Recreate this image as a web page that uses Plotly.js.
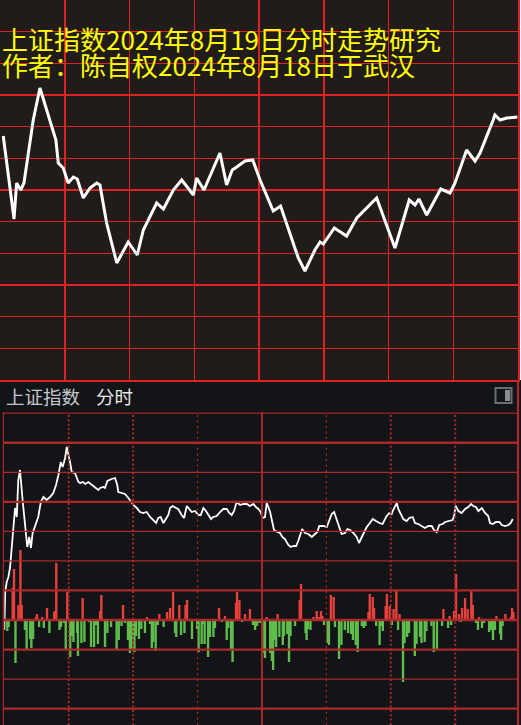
<!DOCTYPE html>
<html>
<head>
<meta charset="utf-8">
<script src="https://cdn.plot.ly/plotly-3.0.1.min.js"></script>
<style>
html,body{margin:0;padding:0;background:#131417;}
#chart{width:521px;height:725px;}
</style>
</head>
<body>
<div id="chart"></div>
<script>
// ---------- text ----------
const titleLine1 = "上证指数2024年8月19日分时走势研究";
const titleLine2 = "作者：陈自权2024年8月18日于武汉";
const panelName = "上证指数";
const panelMode = "分时";

// ---------- top panel: study curve (minute of session, relative level) ----------
const topMin = [1.5,6.5,7.7,9.6,11.1,15.4,18.5,23.6,25.9,27.0,29.3,31.6,34.0,35.8,38.6,41.7,44.8,46.3,49.4,54.1,59.4,63.6,66.4,72.6,75.7,80.3,84.2,89.6,91.1,94.5,101.9,105.0,107.6,109.7,113.5,117.1,120.5,126.6,130.0,138.2,141.3,145.9,148.3,149.8,154.9,160.6,165.3,174.5,183.0,189.6,192.3,194.1,197.7,204.2,208.5,210.8,216.2,220.1,222.4,228.5,229.3,231.7,234.8,239.7];
const topVal = [244,161,197,190,197,260,292,256,240,217,212,197,203,201,182,192,197,195,157,117,138,125,150,177,171,190,200,185,202,190,227,195,210,213,219,220,200,169,174,122,109,130,138,136,152,144,162,182,132,180,175,181,165,191,187,197,230,219,227,260,265,260,262,263];

// ---------- bottom panel: intraday price (minute, relative level) ----------
const priceMin = [0,0.4,1.1,1.9,2.7,3.4,4.2,5.0,5.8,6.5,
  7.3,8.1,8.6,9.3,10.1,10.7,11.6,12.4,13.2,14.8,
  15.8,17.0,18.2,19.7,21.3,22.8,24.1,25.2,26.3,27.2,
  28.3,29.1,29.8,30.6,31.4,32.9,34.5,35.3,36.5,37.7,
  39.1,40.7,42.2,43.8,44.6,46.1,46.9,48.0,50.0,51.6,
  52.6,53.1,54.7,56.2,57.8,58.9,60.1,61.7,63.2,64.7,
  66.3,67.9,69.4,70.7,71.7,72.8,74.1,75.3,76.4,77.2,
  78.4,80.0,81.0,82.6,83.7,85.0,86.2,87.3,88.8,90.4,
  91.5,92.7,93.9,95.0,96.3,97.3,98.9,100.5,102.0,103.6,
  104.8,105.9,107.0,108.2,109.8,111.3,112.9,114.4,116.0,117.2,
  118.3,119.4,120.3,121.4,122.2,123.0,123.8,124.8,125.6,127.2,
  128.4,129.5,130.7,132.3,133.4,134.6,135.9,136.9,138.1,138.7,
  140.1,141.6,143.2,144.7,145.8,146.7,148.6,150.2,151.4,152.5,
  153.6,154.8,156.0,157.1,158.7,159.8,161.0,162.6,164.1,165.2,
  166.5,167.5,168.8,170.3,171.6,173.1,174.7,176.2,177.8,179.3,
  180.4,180.9,182.0,182.8,183.5,184.6,185.8,187.4,188.6,190.2,
  191.3,192.8,194.4,195.9,197.5,199.1,200.1,201.4,202.6,204.2,
  205.3,207.3,208.8,209.6,210.2,211.5,213.0,214.6,216.1,217.4,
  218.4,219.7,220.8,222.4,223.9,225.4,226.2,227.5,229.0,230.6,
  231.7,233.2,234.8,235.9,236.8];
const priceVal = [-10,28,38,43,53,70,95,112,103,140,
  150,127,118,103,85,73,83,72,87,97,
  103,118,123,120,123,127,135,145,158,153,
  162,173,167,158,148,147,138,137,138,136,
  138,135,133,130,132,133,132,139,141,142,
  135,128,127,126,122,118,115,112,108,107,
  108,103,100,97,102,103,97,101,105,112,
  114,112,111,105,102,114,111,108,109,105,
  105,112,109,105,101,103,104,108,111,111,
  107,105,109,118,115,116,116,114,116,113,
  111,108,102,103,117,113,108,98,90,88,
  87,83,81,75,73,74,74,79,87,91,
  87,86,83,86,88,94,94,93,100,106,
  108,100,93,86,87,91,90,87,83,77,
  83,87,93,97,101,99,97,96,103,107,
  106,109,113,117,111,106,101,99,102,103,
  97,96,94,92,94,94,90,88,95,96,
  98,99,100,105,114,109,107,111,113,116,
  114,113,109,112,107,104,97,96,98,98,
  95,94,95,97,101];

// ---------- bottom panel: volume bars (red = up, green = down) ----------
const upMin = [3.9,4.5,6.6,7.5,8.1,14.8,15.2,17.6,19.9,23.2,
  23.6,24.2,29.3,36.5,44.6,45.2,55.3,66.5,72.2,75.8,
  77.2,78.6,81.5,84.4,85.1,100.0,102.8,105.1,107.9,108.4,
  109.5,112.1,114.4,122.2,127.3,137.6,138.2,144.0,145.5,146.4,
  147.5,148.2,152.1,153.4,169.6,170.2,171.6,172.2,177.6,178.2,
  179.5,181.3,182.6,184.1,204.5,207.4,209.5,210.4,211.8,213.2,
  214.6,215.8,217.5,218.2,221.1,229.2,233.4,235.9,236.5,237.1];
const upVol = [32,51,15,70,15,3,6,3,12,8,
  9,57,28,22,9,25,15,3,6,8,
  12,28,15,15,20,12,4,1,17,28,
  20,6,11,3,6,20,36,3,9,3,
  9,4,25,23,8,26,23,12,14,26,
  14,11,29,6,11,4,9,46,6,12,
  22,11,30,15,3,4,6,3,12,8];
const downMin = [1.4,2.0,5.2,9.6,10.4,12.0,12.6,13.4,16.2,18.4,
  21.0,25.7,26.4,27.7,28.6,30.7,31.5,32.2,33.9,34.3,
  35.9,37.3,39.5,40.4,41.8,42.6,43.6,46.9,48.0,49.7,
  52.3,53.3,54.6,56.2,57.6,58.5,59.2,60.1,60.6,61.3,
  62.7,63.8,65.5,67.9,68.7,69.4,70.5,71.5,74.2,79.5,
  80.1,82.3,83.9,87.4,89.8,90.5,91.9,92.7,93.3,94.9,
  95.8,97.4,98.1,101.3,103.6,104.3,105.6,106.3,110.7,115.8,
  116.8,117.7,118.8,119.6,120.3,121.4,123.8,124.6,125.2,125.6,
  126.6,128.1,129.7,130.3,131.8,132.6,133.3,135.4,140.3,140.8,
  141.5,142.6,148.9,150.6,151.2,154.0,155.9,157.0,158.6,160.1,
  161.5,162.4,163.7,164.6,166.5,167.4,168.2,173.2,174.8,175.5,
  176.3,180.5,183.4,185.7,186.4,187.6,188.5,191.2,192.0,193.6,
  194.3,195.8,196.6,198.9,200.0,201.5,203.9,206.7,208.1,212.5,
  219.7,220.6,222.5,223.4,225.8,226.6,227.6,228.5,230.9,231.4,
  232.1];
const downVol = [-11,-7,-43,-10,-30,-19,-28,-19,-7,-8,
  -13,-10,-7,-3,-30,-37,-16,-22,-13,-36,
  -23,-22,-2,-27,-27,-5,-24,-27,-13,-7,
  -29,-20,-6,-3,-20,-33,-30,-18,-32,-16,
  -19,-9,-13,-4,-28,-22,-31,-5,-7,-13,
  -17,-15,-13,-19,-9,-32,-24,-4,-24,-37,
  -17,-17,-8,-2,-20,-8,-29,-42,-2,-5,
  -10,-6,-3,-3,-33,-38,-33,-41,-50,-20,
  -27,-17,-25,-16,-14,-42,-16,-6,-13,-20,
  -9,-10,-5,-23,-25,-7,-39,-25,-10,-13,
  -14,-20,-25,-32,-6,-8,-6,-6,-25,-6,
  -11,-5,-10,-62,-23,-17,-13,-36,-24,-17,
  -23,-22,-11,-6,-32,-30,-6,-8,-5,-2,
  -3,-10,-8,-3,-12,-10,-20,-10,-14,-20,
  -6];

// ---------- grid definitions (bottom panel) ----------
const halfHourMarks = [30, 60, 90, 150, 180, 210];
const halfHourThick = [true, true, false, false, true, true];
const levelStep = 29.54;
const levelIdx = [-3,-2,-1,0,1,2,3,4,5,6,7];
const levelThick = [true,false,true,true,true,false,false,true,false,true,false];

// ---------- layout helpers ----------
const W = 521, H = 725;
const PX = v => v / W;
const PY = v => 1 - v / H;
const topRed = '#dd2323';
const botRed = '#ad2828';

const shapes = [];
// panel backgrounds
shapes.push({type:'rect', xref:'paper', yref:'paper', x0:0, x1:PX(518), y0:PY(380), y1:1,
  fillcolor:'#211b19', line:{width:0}, layer:'below'});
shapes.push({type:'rect', xref:'paper', yref:'paper', x0:PX(518.5), x1:1, y0:PY(380), y1:1,
  fillcolor:'#ffffff', line:{width:0}, layer:'below'});
// horizontal lines in bottom panel
levelIdx.forEach((k, i) => {
  shapes.push({type:'line', xref:'paper', yref:'y2', x0:PX(3.3), x1:PX(517.7),
    y0:k*levelStep, y1:k*levelStep,
    line:{color:botRed, width: levelThick[i] ? 2.3 : 1.2}});
});
// dotted half-hour lines
halfHourMarks.forEach((m, i) => {
  shapes.push({type:'line', xref:'x2', yref:'paper', x0:m, x1:m, y0:0, y1:PY(414),
    line:{color:botRed, width: halfHourThick[i] ? 2 : 1.2, dash: halfHourThick[i] ? '2px,2.4px' : '2px,3.5px'}});
});
// midday solid line and frame
shapes.push({type:'line', xref:'x2', yref:'paper', x0:120, x1:120, y0:0, y1:PY(412.3),
  line:{color:botRed, width:2}});
shapes.push({type:'line', xref:'paper', yref:'paper', x0:PX(3.3), x1:PX(3.3), y0:0, y1:PY(412.3),
  line:{color:botRed, width:1.2}});
shapes.push({type:'line', xref:'paper', yref:'paper', x0:PX(518), x1:PX(518), y0:0, y1:PY(380),
  line:{color:botRed, width:2.2}});
// small window icon in header
shapes.push({type:'rect', xref:'paper', yref:'paper', x0:PX(495.5), x1:PX(511.5), y0:PY(403), y1:PY(388),
  line:{color:'#6c7075', width:2}, fillcolor:'rgba(0,0,0,0)'});
shapes.push({type:'rect', xref:'paper', yref:'paper', x0:PX(505), x1:PX(510), y0:PY(401), y1:PY(390),
  line:{width:0}, fillcolor:'#8a8e93'});

const cjk = '"Noto Sans CJK SC", "Noto Sans", sans-serif';
const annotations = [
  {text:titleLine1, xref:'paper', yref:'paper', x:0, y:PY(38.5), xanchor:'left', yanchor:'middle',
   showarrow:false, font:{family:cjk, size:26, color:'#ffff00'}},
  {text:titleLine2, xref:'paper', yref:'paper', x:0, y:PY(64.5), xanchor:'left', yanchor:'middle',
   showarrow:false, font:{family:cjk, size:26, color:'#ffff00'}},
  {text:panelName, xref:'paper', yref:'paper', x:PX(3.5), y:PY(396), xanchor:'left', yanchor:'middle',
   showarrow:false, font:{family:cjk, size:18.5, color:'#c3c7cc'}},
  {text:panelMode, xref:'paper', yref:'paper', x:PX(94), y:PY(396), xanchor:'left', yanchor:'middle',
   showarrow:false, font:{family:cjk, size:18.5, color:'#e8e8e8'}}
];

const traces = [
  {type:'scatter', mode:'lines', x:topMin, y:topVal, xaxis:'x', yaxis:'y',
   line:{color:'#ffffff', width:3}, hoverinfo:'skip'},
  {type:'bar', x:upMin, y:upVol, xaxis:'x2', yaxis:'y2', width:1.1,
   marker:{color:'#e8403c', line:{width:0}}, hoverinfo:'skip'},
  {type:'bar', x:downMin, y:downVol, xaxis:'x2', yaxis:'y2', width:1.1,
   marker:{color:'#5fbd4e', line:{width:0}}, hoverinfo:'skip'},
  {type:'scatter', mode:'lines', x:priceMin, y:priceVal, xaxis:'x2', yaxis:'y2',
   line:{color:'#ffffff', width:1.8}, hoverinfo:'skip'}
];

const hidden = {showticklabels:false, ticks:'', zeroline:false, fixedrange:true};
const layout = {
  width:W, height:H, margin:{l:0, r:0, t:0, b:0},
  paper_bgcolor:'#131417', plot_bgcolor:'rgba(0,0,0,0)',
  showlegend:false, hovermode:false, barmode:'overlay',
  xaxis:Object.assign({domain:[0, PX(518)], range:[0, 240], anchor:'y',
    showgrid:true, dtick:30, tick0:0, gridcolor:topRed, gridwidth:1.5,
    showline:true, mirror:true, linecolor:topRed, linewidth:1.5}, hidden),
  yaxis:Object.assign({domain:[PY(380), 1], range:[0, 380], anchor:'x',
    showgrid:true, dtick:380/12, tick0:0, gridcolor:topRed, gridwidth:1.5,
    showline:true, mirror:true, linecolor:topRed, linewidth:1.5}, hidden),
  xaxis2:Object.assign({domain:[PX(4.32), PX(519.6)], range:[0, 240], anchor:'y2',
    showgrid:false, showline:false}, hidden),
  yaxis2:Object.assign({domain:[0, PY(412.3)], range:[-105, 207.7], anchor:'x2',
    showgrid:false, showline:false}, hidden),
  shapes:shapes, annotations:annotations
};

Plotly.newPlot('chart', traces, layout, {staticPlot:true, displayModeBar:false});
</script>
</body>
</html>
